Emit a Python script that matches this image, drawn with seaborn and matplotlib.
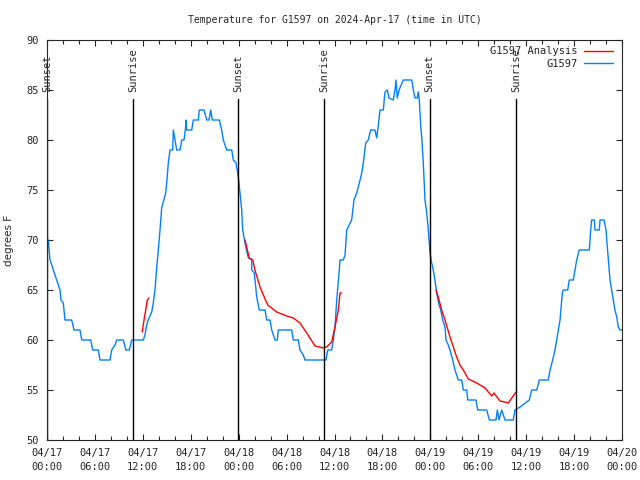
import pandas as pd
import seaborn as sns
import matplotlib
matplotlib.use("Agg")
import matplotlib.pyplot as plt
import matplotlib.dates as mdates
from matplotlib.lines import Line2D

# hours since 2024-04-17 00:00 UTC and observed temperature (F)
obs_hours = [0.16, 0.38, 0.79, 1.21, 1.63, 1.75, 2.04, 2.25, 3.09, 3.38, 4.13, 4.35, 5.47, 5.72,
             6.42, 6.64, 7.89, 8.10, 8.51, 8.73, 9.55, 9.89, 10.31, 10.61, 12.06, 12.27, 12.48,
             12.68, 13.11, 13.31, 13.52, 13.74, 13.94, 14.15, 14.36, 14.56, 14.86, 14.99, 15.19,
             15.40, 15.74, 15.82, 16.03, 16.24, 16.65, 16.87, 17.15, 17.32, 17.41, 17.49, 18.12,
             18.32, 18.95, 19.07, 19.66, 20.00, 20.29, 20.50, 20.70, 21.58, 21.87, 22.08, 22.50,
             23.13, 23.33, 23.67, 23.95, 24.17, 24.38, 24.51, 24.79, 25.21, 25.63, 25.64, 25.96,
             26.26, 26.58, 27.30, 27.51, 27.92, 28.14, 28.55, 28.84, 28.96, 30.64, 30.84, 31.47,
             31.68, 32.09, 32.31, 34.94, 35.15, 35.65, 35.85, 36.06, 36.28, 36.60, 36.69, 37.10,
             37.32, 37.53, 38.15, 38.44, 38.78, 39.11, 39.41, 39.61, 39.91, 40.23, 40.53, 41.07,
             41.28, 41.49, 41.70, 42.11, 42.32, 42.61, 42.82, 43.36, 43.58, 43.70, 43.86, 44.08,
             44.62, 45.67, 45.87, 46.08, 46.37, 46.49, 46.62, 46.80, 46.92, 47.12, 47.33, 47.55,
             47.75, 47.87, 47.96, 48.17, 48.37, 48.58, 48.80, 49.00, 49.30, 49.55, 49.84, 49.96,
             50.25, 50.46, 50.80, 51.09, 51.50, 51.93, 52.13, 52.56, 52.68, 53.72, 53.93, 55.06,
             55.39, 56.22, 56.39, 56.60, 56.94, 57.35, 58.39, 58.60, 59.23, 60.39, 60.69, 61.32,
             61.65, 62.77, 62.99, 63.32, 63.61, 63.82, 64.24, 64.53, 64.65, 65.20, 65.40, 65.90,
             66.12, 66.33, 66.65, 67.91, 68.08, 68.20, 68.53, 68.62, 69.16, 69.25, 69.75, 70.00,
             70.09, 70.29, 70.50, 70.71, 70.91, 71.12, 71.34, 71.54, 71.75, 72.00]
obs_temp = [70, 68, 67, 66, 65, 64, 63.7, 62, 62, 61, 61, 60, 60, 59,
            59, 58, 58, 59, 59.5, 60, 60, 59, 59, 60, 60, 60.5, 61.5,
            62, 62.8, 63.7, 65, 67.3, 69, 71, 73.2, 73.8, 74.7, 75.7, 77.7,
            79, 79, 81, 80, 79, 79, 80, 80, 81, 82, 81, 81,
            82, 82, 83, 83, 82, 82, 83, 82, 82, 81, 80, 79,
            79, 78, 77.7, 76.3, 74.7, 73, 71, 69.7, 68.2, 68, 67, 66.7,
            64.3, 63, 63, 62, 62, 61, 60, 60, 61, 61, 60, 60,
            59, 58.5, 58, 58, 59, 59, 60, 61.3, 64, 67, 68, 68,
            68.5, 71, 72, 74, 74.7, 75.7, 76.7, 77.7, 79.7, 80, 81, 81,
            80.2, 81.5, 83, 83, 84.8, 85, 84.2, 84, 85, 86, 84.2, 85,
            86, 86, 85, 84.2, 84.2, 84.8, 84, 81.3, 80.3, 77.7, 74, 72.7,
            71, 69.7, 68.7, 67.7, 67, 66, 64.7, 63.8, 63, 62, 61.3, 60,
            59.5, 59, 58, 57, 56, 56, 55, 55, 54, 54, 53, 53,
            52, 52, 53, 52, 53, 52, 52, 53, 53.3, 54, 55, 55,
            56, 56, 57, 58, 59, 60, 62, 64.7, 65, 65, 66, 66,
            67, 68, 69, 69, 71, 72, 72, 71, 71, 72, 72, 71,
            70, 68, 66, 65, 64, 63, 62.3, 61.3, 61, 61]

# analysis segments (separate pieces)
ana_seg = [1] * 5 + [2] * 21 + [3] * 17 + [4] * 2
ana_hours = [11.93, 12.15, 12.36, 12.56, 12.77,
             24.80, 25.00, 25.33, 25.76, 26.04, 26.67, 27.09, 27.64, 28.76, 30.02, 30.84,
             31.68, 32.52, 33.56, 34.60, 35.02, 35.65, 36.06, 36.48, 36.69, 36.90,
             48.71, 49.00, 49.42, 49.84, 50.46, 50.88, 51.30, 51.71, 52.13, 52.75, 53.80,
             54.85, 55.68, 55.97, 56.72, 57.76, 58.73,
             60.80, 60.86]
ana_temp = [60.8, 62, 63, 64, 64.2,
            70, 69.3, 68.2, 68, 67, 65.3, 64.5, 63.5, 62.8, 62.4, 62.2,
            61.7, 60.7, 59.4, 59.2, 59.3, 59.8, 61.3, 63, 64.7, 64.7,
            65, 64.3, 63, 62, 60.3, 59.3, 58.3, 57.5, 57, 56.1, 55.7,
            55.2, 54.4, 54.7, 53.9, 53.7, 54.8,
            56.8, 56.8]

sun_labels = ["Sunset", "Sunrise", "Sunset", "Sunrise", "Sunset", "Sunrise"]
sun_hours = [0.0, 10.83, 23.92, 34.69, 47.9, 58.73]

start = pd.Timestamp("2024-04-17 00:00")
obs = pd.DataFrame({"time": start + pd.to_timedelta(obs_hours, unit="h"), "temp": obs_temp})
ana = pd.DataFrame({"time": start + pd.to_timedelta(ana_hours, unit="h"), "temp": ana_temp,
                    "seg": ana_seg})

sns.set_theme(style="ticks")
plt.rcParams["font.family"] = ["DejaVu Sans Mono"]

fig = plt.figure(figsize=(6.4, 4.8), dpi=100)
ax = fig.add_axes([47 / 640, 40 / 480, 575 / 640, 400 / 480])

blue = "#0080ff"
sns.lineplot(data=obs, x="time", y="temp", color=blue, lw=1.0, ax=ax)
sns.lineplot(data=ana, x="time", y="temp", units="seg", estimator=None, color="red", lw=1.0, ax=ax)

# sunrise / sunset markers
for lab, h in zip(sun_labels, sun_hours):
    t = start + pd.Timedelta(hours=h)
    ax.plot([t, t], [50, 84.1], color="black", lw=1.0)
    ax.text(t, 84.8, lab, rotation=90, ha="center", va="bottom", fontsize=7.5)

ax.set_xlim(start, start + pd.Timedelta(hours=72))
ax.set_ylim(50, 90)
ax.set_yticks(range(50, 91, 5))
ax.xaxis.set_major_locator(mdates.HourLocator(byhour=range(0, 24, 6)))
ax.xaxis.set_minor_locator(mdates.HourLocator(interval=2))
ax.xaxis.set_major_formatter(mdates.DateFormatter("%m/%d\n%H:%M"))

ax.tick_params(which="both", direction="in", top=True, right=True, labelsize=7.5, width=0.8, pad=6)
ax.tick_params(which="major", length=4.5)
ax.tick_params(which="minor", length=2.8)
for lbl in ax.get_xticklabels():
    lbl.set_linespacing(1.5)
for s in ax.spines.values():
    s.set_linewidth(0.8)
    s.set_visible(True)

ax.set_xlabel("")
ax.set_ylabel("degrees F", fontsize=7.5, family="DejaVu Sans", labelpad=9)
ax.set_title("Temperature for G1597 on 2024-Apr-17 (time in UTC)", fontsize=7, pad=12)

handles = [Line2D([], [], color="red", lw=1.0), Line2D([], [], color=blue, lw=1.0)]
ax.legend(handles, ["G1597 Analysis", "G1597"], loc="upper right", frameon=False,
          markerfirst=False, fontsize=7.5, handlelength=2.8, handletextpad=0.6,
          labelspacing=0.25, borderaxespad=0.2, bbox_to_anchor=(0.995, 1.0))

fig.savefig("out.png", dpi=100)
